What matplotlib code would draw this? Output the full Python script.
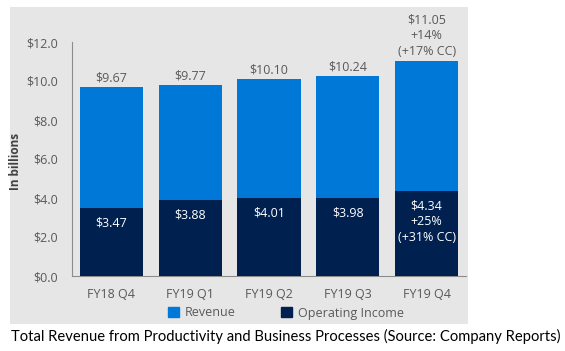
import matplotlib.pyplot as plt
from matplotlib.patches import Rectangle, Patch

quarters = ["FY18 Q4", "FY19 Q1", "FY19 Q2", "FY19 Q3", "FY19 Q4"]
revenue = [9.67, 9.77, 10.10, 10.24, 11.05]
op_income = [3.47, 3.88, 4.01, 3.98, 4.34]
rev_labels = ["$9.67", "$9.77", "$10.10", "$10.24", "$11.05\n+14%\n(+17% CC)"]
op_labels = ["$3.47", "$3.88", "$4.01", "$3.98", "$4.34\n+25%\n(+31% CC)"]
yticks = [0, 2, 4, 6, 8, 10, 12]
ytick_labels = ["$0.0", "$2.0", "$4.0", "$6.0", "$8.0", "$10.0", "$12.0"]

REV_C = "#0078D7"
OP_C = "#002050"
BG = "#E6E6E6"
TXT = "#595959"
FONT = ["Open Sans", "DejaVu Sans"]

fig = plt.figure(figsize=(5.65, 3.51), dpi=100)
fig.patch.set_facecolor("white")
fig.add_artist(Rectangle((10/565, 1-324/351), (468-10)/565, (324-7)/351,
                         transform=fig.transFigure, facecolor=BG, edgecolor="none", zorder=0))

ax = fig.add_axes([72/565, 1-276/351, (466-72)/565, (276-42)/351])
ax.set_facecolor("none")
x = range(len(quarters))
ax.bar(x, revenue, width=0.8, color=REV_C, zorder=2)
ax.bar(x, op_income, width=0.8, color=OP_C, zorder=3)
ax.set_xlim(-0.5, 4.5)
ax.set_ylim(0, 12)
ax.set_yticks(yticks)
ax.set_yticklabels(ytick_labels, fontfamily=FONT, fontsize=9, color=TXT)
ax.set_xticks(list(x))
ax.set_xticklabels(quarters, fontfamily=FONT, fontsize=9, color=TXT)
ax.tick_params(length=0, pad=10)
ax.tick_params(axis="x", pad=9)
for s in ["top", "right"]:
    ax.spines[s].set_visible(False)
for s in ["left", "bottom"]:
    ax.spines[s].set_color("#8C8C8C")
    ax.spines[s].set_linewidth(0.8)
ax.set_ylabel("In billions", fontfamily=FONT, fontsize=8.5, color="#404040", fontweight="bold")
ax.yaxis.set_label_coords((22-72)/394, 0.49)

for i in x:
    ax.annotate(rev_labels[i], (i, revenue[i]), xytext=(0, 2), textcoords="offset points",
                ha="center", va="bottom", fontfamily=FONT, fontsize=9, color=TXT,
                linespacing=1.25, annotation_clip=False)
    ax.annotate(op_labels[i], (i, op_income[i]), xytext=(0, -6), textcoords="offset points",
                ha="center", va="top", fontfamily=FONT, fontsize=9, color="white",
                linespacing=1.25, zorder=4)

handles = [Patch(color=REV_C, label="Revenue"), Patch(color=OP_C, label="Operating Income")]
fig.legend(handles=handles, loc="center", bbox_to_anchor=(286/565, 1-313/351), ncol=2,
           frameon=False, prop={"family": FONT, "size": 9}, labelcolor=TXT,
           handlelength=0.9, handleheight=0.9, handletextpad=0.5, columnspacing=3.6)

fig.text(11/565, 1-336/351, "Total Revenue from Productivity and Business Processes (Source: Company Reports)",
         ha="left", va="center", fontfamily=["Lato", "DejaVu Sans"], fontsize=10.6, color="black")

fig.savefig("out.png", dpi=100)
